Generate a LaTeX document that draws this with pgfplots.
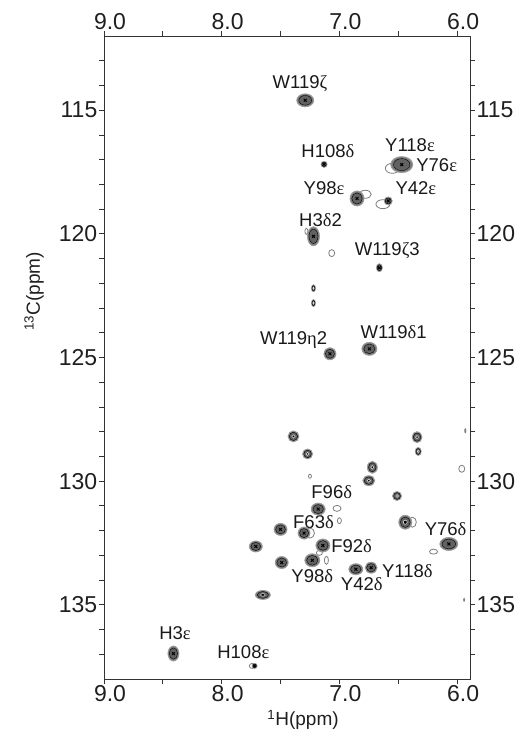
\documentclass[border=0pt]{standalone}
\usepackage{pgfplots}
\usepackage{pgfplotstable}
\pgfplotsset{compat=1.18}
\usepackage{fontspec}
\setmainfont{Liberation Sans}
\newfontfamily\grk{Liberation Serif}
\definecolor{pkout}{HTML}{7C7C7C}
\definecolor{pkedge}{HTML}{9C9C9C}
\definecolor{pkin}{HTML}{626262}
\definecolor{opencont}{HTML}{7E7E7E}
\definecolor{axcol}{HTML}{333333}

% labelled peaks (with cross): 1H ppm, 13C ppm, half-widths (pt)
\pgfplotstableread{
x y rx ry
7.29 114.60 8.5 6.5
7.13 117.19 3.0 3.0
6.47 117.20 11.0 8.0
6.85 118.57 7.0 7.5
6.585 118.67 4.0 4.0
7.22 120.10 6.0 9.5
6.66 121.37 3.0 4.0
7.08 124.85 6.0 6.0
6.745 124.65 7.5 6.5
7.18 131.13 7.0 6.0
7.30 132.10 6.0 6.0
7.50 131.95 6.5 6.0
7.71 132.64 6.5 5.5
7.14 132.60 7.0 6.5
7.49 133.29 6.5 6.0
7.23 133.20 7.5 6.5
6.86 133.56 7.0 5.5
6.73 133.50 6.0 5.5
6.07 132.54 9.0 6.5
8.41 136.97 5.5 7.5
7.72 137.47 2.5 2.5
}\labelled

% unlabelled filled peaks
\pgfplotstableread{
x y rx ry
7.39 128.19 5.5 5.5
7.27 128.90 5.0 5.0
6.34 128.22 5.0 5.5
6.33 128.80 3.0 4.0
6.72 129.44 5.0 6.0
6.75 129.98 6.0 5.0
6.51 130.60 4.5 4.5
6.44 131.66 6.5 7.0
7.65 134.60 7.5 4.5
7.22 122.20 2.0 3.5
7.22 122.80 2.0 3.5
}\plain

% open contours
\pgfplotstableread{
x y rx ry
6.55 117.35 7.0 5.0
6.78 118.40 6.0 4.0
6.63 118.80 7.0 4.5
7.065 120.78 3.0 3.5
7.28 119.90 1.5 3.0
5.96 129.50 3.0 3.5
7.25 129.80 1.5 2.0
7.02 131.10 4.0 3.0
7.00 131.60 2.0 3.0
7.25 132.10 4.5 5.0
7.17 132.90 3.0 2.5
7.11 133.20 2.0 4.0
6.20 132.85 4.0 2.5
6.38 131.66 4.0 5.0
7.74 137.47 3.0 2.5
5.93 127.96 0.6 2.0
5.94 134.80 0.6 1.5
}\opencont

\pgfplotsset{
  base/.style={
    width=366pt, height=643pt, scale only axis,
    x dir=reverse, y dir=reverse,
    xmin=5.89, xmax=9.0, ymin=112, ymax=138,
    xtick={6,7,8,9}, minor xtick={6.5,7.5,8.5},
    ytick={115,120,125,130,135},
    minor ytick={113,114,116,117,118,119,121,122,123,124,126,127,128,129,131,132,133,134,136,137},
    tick align=outside, major tick length=5pt, minor tick length=5pt,
    tick style={draw=axcol, line width=0.8pt},
    axis line style={draw=axcol, line width=0.9pt},
    /pgf/number format/assume math mode=true,
    tick label style={font=\fontsize{23}{26}\selectfont, text=black!88, inner sep=1.5pt},
    xticklabel style={xshift=6pt, /pgf/number format/.cd, fixed, fixed zerofill, precision=1},
    yticklabel style={/pgf/number format/.cd, fixed, precision=0},
  },
  peak/.style 2 args={only marks, scatter, mark=*, #1,
    visualization depends on={\thisrow{rx}/\thisrow{ry} \as \sx},
    visualization depends on={#2*\thisrow{ry} \as \ms},
    scatter/@pre marker code/.code={\scope[xscale=\sx, mark size=\ms pt]},
    scatter/@post marker code/.code={\endscope}},
}
\tikzset{lab/.style={font=\fontsize{18.5}{20}\selectfont, text=black!90, inner sep=0pt, anchor=center}}

\begin{document}
\begin{tikzpicture}
\begin{axis}[base, name=ax,
  xlabel={\textsuperscript{1}H(ppm)},
  ylabel={\textsuperscript{13}C(ppm)},
  every axis x label/.style={at={(axis description cs:0.544,-0.0725)}, anchor=base, font=\fontsize{19}{21}\selectfont, text=black!88},
  every axis y label/.style={at={(axis description cs:-0.175,0.603)}, anchor=base, rotate=90, font=\fontsize{19}{21}\selectfont, text=black!88},
]
% open contours
\addplot[peak={draw=opencont, fill=white, line width=0.8pt}{1}] table[x=x,y=y]{\opencont};
% unlabelled filled peaks
\addplot[peak={draw=pkedge, fill=pkout, line width=0.8pt}{1}] table[x=x,y=y]{\plain};
\addplot[peak={draw=none, fill=pkin}{0.75}] table[x=x,y=y]{\plain};
\addplot[peak={draw=white!70!gray, fill=none, line width=0.6pt}{0.3}] table[x=x,y=y]{\plain};
% labelled peaks
\addplot[peak={draw=pkedge, fill=pkout, line width=0.8pt}{1}] table[x=x,y=y]{\labelled};
\addplot[peak={draw=none, fill=pkin}{0.75}] table[x=x,y=y]{\labelled};
\addplot[only marks, mark=x, mark size=2pt, line width=1pt, black] table[x=x,y=y]{\labelled};

% peak labels
\node[lab] at (axis cs:7.335,113.91) {W119{\grk ζ}};
\node[lab] at (axis cs:7.097,116.66) {H108{\grk δ}};
\node[lab] at (axis cs:6.40,116.42) {Y118{\grk ε}};
\node[lab] at (axis cs:6.173,117.23) {Y76{\grk ε}};
\node[lab] at (axis cs:7.13,118.16) {Y98{\grk ε}};
\node[lab] at (axis cs:6.35,118.17) {Y42{\grk ε}};
\node[lab] at (axis cs:7.16,119.45) {H3{\grk δ}2};
\node[lab] at (axis cs:6.593,120.67) {W119{\grk ζ}3};
\node[lab] at (axis cs:7.388,124.28) {W119{\grk η}2};
\node[lab] at (axis cs:6.539,123.98) {W119{\grk δ}1};
\node[lab] at (axis cs:7.065,130.45) {F96{\grk δ}};
\node[lab] at (axis cs:7.22,131.67) {F63{\grk δ}};
\node[lab] at (axis cs:6.896,132.61) {F92{\grk δ}};
\node[lab] at (axis cs:7.23,133.83) {Y98{\grk δ}};
\node[lab] at (axis cs:6.81,134.16) {Y42{\grk δ}};
\node[lab] at (axis cs:6.423,133.62) {Y118{\grk δ}};
\node[lab] at (axis cs:6.097,131.94) {Y76{\grk δ}};
\node[lab] at (axis cs:8.397,136.16) {H3{\grk ε}};
\node[lab] at (axis cs:7.816,136.93) {H108{\grk ε}};
\end{axis}
\begin{axis}[base, xticklabel pos=upper, yticklabel pos=right]
\end{axis}
\pgfresetboundingbox
\path[use as bounding box] ([shift={(-104pt,-50pt)}]ax.south west) rectangle ([shift={(52pt,36pt)}]ax.north east);
\end{tikzpicture}
\end{document}
